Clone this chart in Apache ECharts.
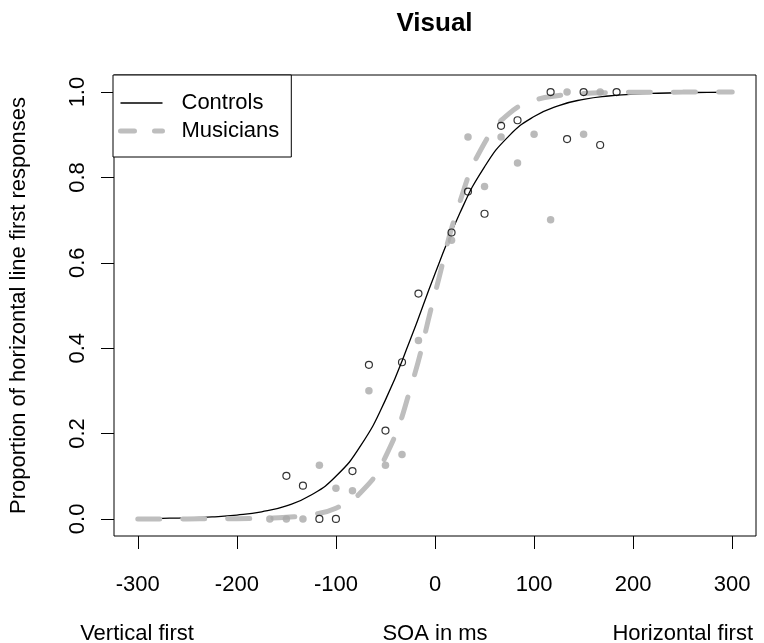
<!DOCTYPE html>
<html>
<head>
<meta charset="utf-8">
<script src="https://cdn.jsdelivr.net/npm/echarts@6/dist/echarts.min.js"></script>
<style>
html, body { margin: 0; padding: 0; background: #fff; }
#chart { width: 764px; height: 643px; }
</style>
</head>
<body>
<div id="chart"></div>
<script>
// tick labels
var xTicks = [-300, -200, -100, 0, 100, 200, 300];
var yTicks = [0, 0.2, 0.4, 0.6, 0.8, 1.0];

// observed proportions
var controlsSoa = [-150, -133.3, -116.7, -100, -83.3, -66.7, -50, -33.3, -16.7, 16.7, 33.3, 50, 66.7, 83.3, 116.7, 133.3, 150, 166.7, 183.3];
var controlsProp = [0.101, 0.078, 0, 0, 0.112, 0.361, 0.207, 0.367, 0.528, 0.671, 0.767, 0.715, 0.921, 0.934, 1, 0.89, 1, 0.876, 1];
var musiciansSoa = [-166.7, -150, -133.3, -116.7, -100, -83.3, -66.7, -50, -33.3, -16.7, 16.7, 33.3, 50, 66.7, 83.3, 100, 116.7, 133.3, 150, 166.7];
var musiciansProp = [0, 0, 0, 0.126, 0.072, 0.066, 0.3, 0.126, 0.151, 0.418, 0.653, 0.895, 0.779, 0.895, 0.834, 0.901, 0.701, 1, 0.901, 1];

// fitted curves
var curveSoa = [-300, -275, -250, -225, -200, -175, -150, -125, -100, -75, -50, -25, 0, 25, 50, 75, 100, 125, 150, 175, 200, 225, 250, 275, 300];
var controlsFit = [0.0007, 0.0014, 0.0026, 0.0048, 0.009, 0.0167, 0.0308, 0.056, 0.0998, 0.1715, 0.2789, 0.4195, 0.5744, 0.7161, 0.8249, 0.898, 0.9427, 0.9685, 0.9829, 0.9908, 0.995, 0.9973, 0.9986, 0.9992, 0.9996];
var musiciansFit = [0, 0, 0.0001, 0.0002, 0.0005, 0.0015, 0.0039, 0.0099, 0.0251, 0.0618, 0.1455, 0.3036, 0.5283, 0.7421, 0.8808, 0.95, 0.9799, 0.9921, 0.9969, 0.9988, 0.9995, 0.9998, 0.9999, 1, 1];

function pairs(xs, ys) {
    var out = [];
    for (var i = 0; i < xs.length; i++) out.push([xs[i], ys[i]]);
    return out;
}

var font = '"Liberation Sans", Arial, Helvetica, sans-serif';
var txt = { fontSize: 22, color: '#000', fontFamily: font, fontWeight: 'normal' };

var chart = echarts.init(document.getElementById('chart'));
var option = {
    animation: false,
    backgroundColor: '#fff',
    title: [
        { text: 'Visual', left: 434.5, top: 11, textAlign: 'center', padding: 0,
          textStyle: { fontSize: 26, fontWeight: 'bold', color: '#000', fontFamily: font } },
        { text: 'Vertical first', left: 137, top: 623, textAlign: 'center', padding: 0, textStyle: txt },
        { text: 'SOA in ms', left: 435, top: 623, textAlign: 'center', padding: 0, textStyle: txt },
        { text: 'Horizontal first', right: 11, top: 623, padding: 0, textStyle: txt }
    ],
    legend: {
        data: [
            { name: 'Controls', lineStyle: { color: '#000', width: 1.3 } },
            { name: 'Musicians', lineStyle: { color: '#bebebe', width: 5, type: [14, 20], cap: 'round' } }
        ],
        orient: 'vertical',
        left: 113,
        top: 75,
        backgroundColor: '#fff',
        borderColor: '#000',
        borderWidth: 1,
        borderRadius: 0,
        padding: [17, 12, 15, 5],
        itemWidth: 42,
        itemHeight: 14,
        itemGap: 6,
        itemStyle: { opacity: 0 },
        selectedMode: false,
        textStyle: { fontSize: 22, color: '#000', fontFamily: font, padding: [0, 0, 0, 14] }
    },
    grid: {
        left: 113, top: 75, width: 643, height: 461,
        show: true, borderColor: '#000', borderWidth: 1, backgroundColor: 'transparent'
    },
    xAxis: {
        type: 'value',
        min: -324,
        max: 324,
        splitLine: { show: false },
        axisLine: { show: false, onZero: false },
        axisTick: { show: true, length: 13, customValues: xTicks, lineStyle: { color: '#000', width: 1 } },
        axisLabel: { customValues: xTicks, margin: 38, fontSize: 22, color: '#000', fontFamily: font }
    },
    yAxis: {
        type: 'value',
        min: -0.04,
        max: 1.04,
        name: 'Proportion of horizontal line first responses',
        nameLocation: 'middle',
        nameRotate: 90,
        nameGap: 84,
        nameTextStyle: txt,
        splitLine: { show: false },
        axisLine: { show: false, onZero: false },
        axisTick: { show: true, length: 13, customValues: yTicks, lineStyle: { color: '#000', width: 1 } },
        axisLabel: {
            customValues: yTicks, rotate: 90, margin: 25, fontSize: 22, color: '#000', fontFamily: font,
            formatter: function (v) { return v.toFixed(1); }
        }
    },
    series: [
        {
            name: 'Controls',
            type: 'line',
            data: pairs(curveSoa, controlsFit),
            smooth: true,
            symbol: 'none',
            itemStyle: { color: '#000' },
            lineStyle: { color: '#000', width: 1.3 },
            z: 2
        },
        {
            name: 'Musicians',
            type: 'line',
            data: pairs(curveSoa, musiciansFit),
            smooth: true,
            symbol: 'none',
            itemStyle: { color: '#bebebe' },
            lineStyle: { color: '#bebebe', width: 5, type: [22, 23], cap: 'round' },
            z: 2
        },
        {
            name: 'Musicians obs',
            type: 'scatter',
            data: pairs(musiciansSoa, musiciansProp),
            symbol: 'circle',
            symbolSize: 7.5,
            itemStyle: { color: '#a9a9a9' },
            emphasis: { disabled: true },
            z: 3
        },
        {
            name: 'Controls obs',
            type: 'scatter',
            data: pairs(controlsSoa, controlsProp),
            symbol: 'circle',
            symbolSize: 7,
            itemStyle: { color: 'rgba(255,255,255,0)', borderColor: '#000', borderWidth: 1.2 },
            emphasis: { disabled: true },
            z: 4
        }
    ]
};
chart.setOption(option);
</script>
</body>
</html>
